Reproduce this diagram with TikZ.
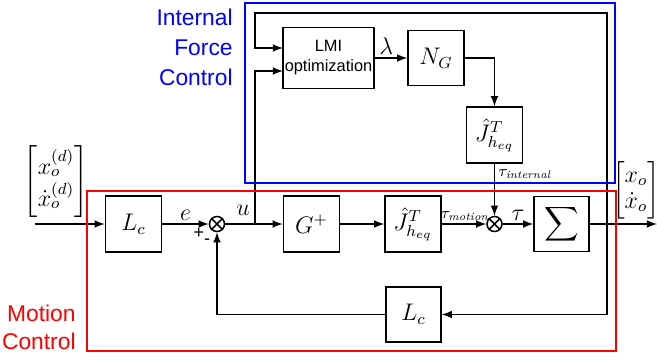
\documentclass[tikz,border=0pt]{standalone}
\usepackage{amsmath}
\usepackage{fontspec}
\newfontfamily\labelfont{Liberation Sans}
\newcommand{\tausub}[1]{$\tau_{\mbox{\fontsize{5.5}{7}\selectfont\itshape #1}}$}

\begin{document}
\begin{tikzpicture}[x=0.5pt, y=-0.5pt, >=latex, line width=0.75pt,
        block/.style={draw, minimum width=28pt, minimum height=28pt, inner sep=0pt, font=\fontsize{11.5}{13}\selectfont},
        junction/.style={draw, circle, minimum size=7.5pt, inner sep=0pt},
        siglabel/.style={font=\fontsize{11.5}{13}\selectfont, inner sep=1.5pt},
        smalllabel/.style={font=\fontsize{8.2}{10}\selectfont, inner sep=1.5pt},
        grouplabel/.style={font=\labelfont\fontsize{11.4}{15}\selectfont, align=right, anchor=east}]
    \useasboundingbox (0,0) rectangle (657,360);

    % motion loop
    \node[block] (Lc) at (133.5,224) {$L_c$};
    \node[junction] (s1) at (217,224) {};
    \node[block] (G) at (311.5,224) {$G^{+}$};
    \node[block] (Jm) at (413,224) {$\hat{J}^{T}_{h_{eq}}$};
    \node[junction] (s2) at (494.5,224) {};
    \node[block, minimum width=27.5pt, minimum height=27.5pt] (Sig) at (561.5,224) {$\displaystyle\sum$};
    \node[block, minimum width=27.5pt, minimum height=27.5pt] (Lb) at (413.5,314.5) {$L_c$};

    % internal force loop
    \node[draw, minimum width=45.5pt, minimum height=30.5pt, inner sep=0pt, align=center,
          font=\labelfont\fontsize{8.2}{10}\selectfont] (LMI) at (328.5,58) {LMI\\optimization};
    \node[block, minimum height=27.5pt] (NG) at (436,58) {$N_G$};
    \node[block] (Jt) at (494.5,135) {$\hat{J}^{T}_{h_{eq}}$};

    \foreach \s in {s1,s2} {
        \draw (\s.north east) -- (\s.south west);
        \draw (\s.north west) -- (\s.south east);
    }

    \coordinate (in) at (35,224);
    \coordinate (out) at (657,224);
    \coordinate (ubr) at (255,224);
    \coordinate (tap) at (607,224);
    \coordinate (ctop) at (607,13);
    \coordinate (cleft) at (255,13);
    \coordinate (lmiA) at (283,48);
    \coordinate (lmiB) at (283,71);

    \draw[->] (in) -- (Lc);
    \draw[->] (Lc) -- (s1) node[midway, above, siglabel] {$e$};
    \draw[->] (s1) -- (G);
    \draw[->] (G) -- (Jm);
    \draw[->] (Jm) -- (s2) node[pos=0.52, above, smalllabel] {\tausub{motion}};
    \draw[->] (s2) -- (Sig) node[midway, above, siglabel] {$\tau$};
    \draw[->] (Sig) -- (out);
    \draw[->] (tap) |- (Lb);
    \draw[->] (Lb) -| (s1);
    \draw[->] (tap) -- (ctop) -- (cleft) |- (lmiA);
    \draw[->] (ubr) |- (lmiB);
    \draw[->] (LMI) -- (NG) node[pos=0.35, above, siglabel] {$\lambda$};
    \draw[->] (NG) -| (Jt);
    \draw[->] (Jt) -- (s2) node[pos=0.2, right, smalllabel] {\tausub{internal}};

    \node[siglabel] (ulab) at (243,210) {$u$};
    \node[font=\labelfont\fontsize{9}{10}\selectfont, inner sep=0pt] (plus) at (199,233) {+};
    \node[font=\labelfont\fontsize{9}{10}\selectfont, inner sep=0pt] (minus) at (207,242) {-};

    \node[siglabel] (xd) at (56,182) {$\begin{bmatrix} x_o^{(d)}\\ \dot{x}_o^{(d)} \end{bmatrix}$};
    \node[siglabel] (xo) at (636,190) {$\begin{bmatrix} x_o\\ \dot{x}_o \end{bmatrix}$};

    % group frames
    \draw[blue, line width=1pt] (245,3) rectangle (615,183);
    \draw[red, line width=1pt] (87,191) rectangle (616,351);
    \node[grouplabel, text=blue] (ifc) at (240,47) {Internal\\Force\\Control};
    \node[grouplabel, text=red, font=\labelfont\fontsize{11.4}{14}\selectfont] (mc) at (83,327) {Motion\\Control};
\end{tikzpicture}
\end{document}
